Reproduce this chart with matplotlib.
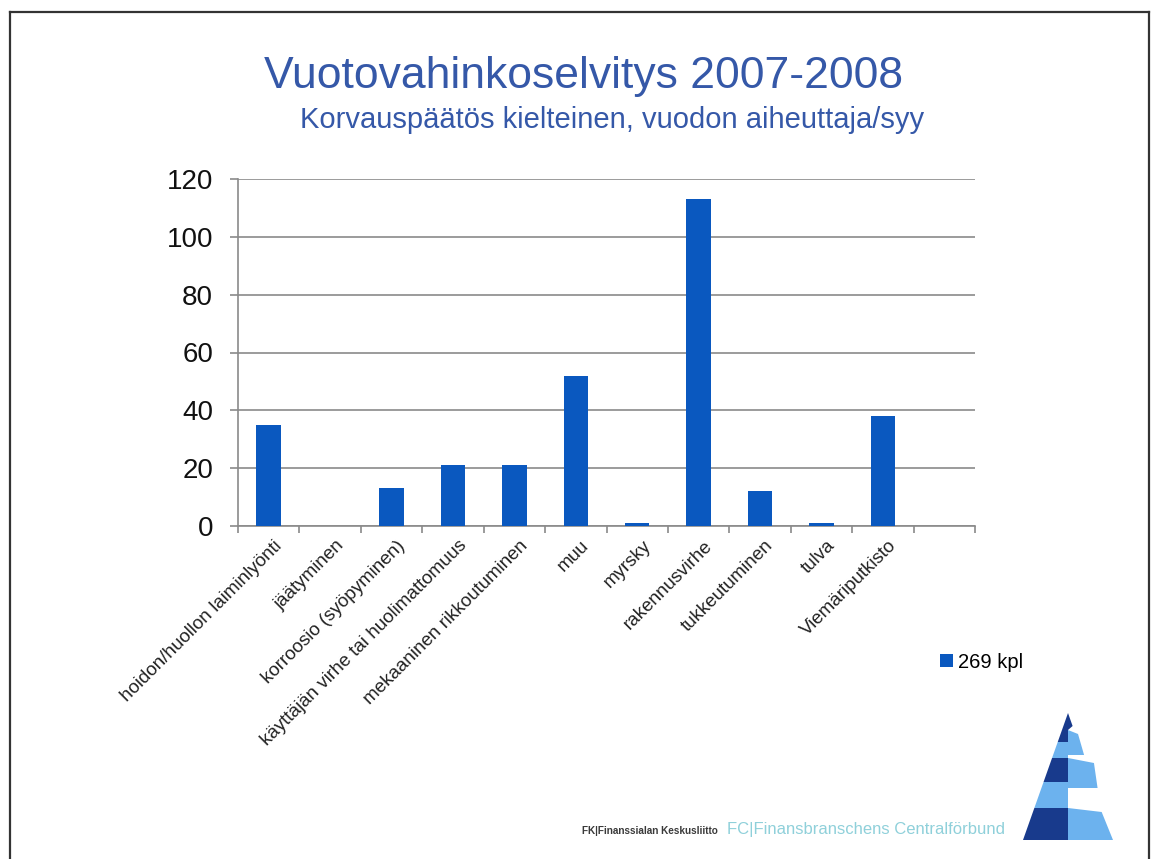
import matplotlib
matplotlib.use("Agg")
import matplotlib.pyplot as plt
from matplotlib.lines import Line2D
from matplotlib.patches import Polygon
import matplotlib.transforms as mtransforms
import numpy as np

plt.rcParams['font.family'] = ['Liberation Sans', 'DejaVu Sans']

# --- data ---
categories = [
    "hoidon/huollon laiminlyönti",
    "jäätyminen",
    "korroosio (syöpyminen)",
    "käyttäjän virhe tai huolimattomuus",
    "mekaaninen rikkoutuminen",
    "muu",
    "myrsky",
    "rakennusvirhe",
    "tukkeutuminen",
    "tulva",
    "Viemäriputkisto",
]
counts = [35, 0, 13, 21, 21, 52, 1, 113, 12, 1, 38]
series_name = "269 kpl"
y_ticks = [0, 20, 40, 60, 80, 100, 120]

title = "Vuotovahinkoselvitys 2007-2008"
subtitle = "Korvauspäätös kielteinen, vuodon aiheuttaja/syy"
footer_fk = "FK|Finanssialan Keskusliitto"
footer_fc = "FC|Finansbranschens Centralförbund"

# --- figure ---
W, H = 1154, 859
fig = plt.figure(figsize=(W / 100, H / 100), dpi=100)
fig.patch.set_facecolor("white")


def px(x, y):
    """Pixel position (origin top-left) to figure fraction."""
    return (x / W, 1 - y / H)


# slide frame
frame_col = "#333333"
fig.add_artist(Line2D([10 / W, 1149 / W], [1 - 12 / H, 1 - 12 / H],
                      transform=fig.transFigure, color=frame_col, lw=1.6))
fig.add_artist(Line2D([10 / W, 10 / W], [1 - 12 / H, 0],
                      transform=fig.transFigure, color=frame_col, lw=1.6))
fig.add_artist(Line2D([1149 / W, 1149 / W], [1 - 12 / H, 0],
                      transform=fig.transFigure, color=frame_col, lw=1.6))

# titles
title_col = "#3558A8"
fig.text(*px(584, 88), title, ha="center", va="baseline",
         fontsize=32, color=title_col)
fig.text(*px(612, 128), subtitle, ha="center", va="baseline",
         fontsize=21, color=title_col)

# --- chart ---
left, right, top, bottom = 238, 975, 179, 526
ax = fig.add_axes([left / W, 1 - bottom / H, (right - left) / W, (bottom - top) / H])

x = np.arange(len(categories))
bars = ax.bar(x, counts, width=0.4, color="#0A58BF", label=series_name, zorder=3)

ax.set_xlim(-0.5, len(categories) + 0.5)
ax.set_ylim(0, 120)
ax.set_yticks(y_ticks)
ax.yaxis.grid(True, color="#8a8a8a", lw=1.2, zorder=0)
ax.set_axisbelow(True)

for s in ("top", "right"):
    ax.spines[s].set_visible(False)
ax.spines["left"].set_color("#8a8a8a")
ax.spines["bottom"].set_color("#8a8a8a")
ax.spines["left"].set_linewidth(1.2)
ax.spines["bottom"].set_linewidth(1.2)

ax.tick_params(axis="y", length=6, width=1.2, color="#8a8a8a",
               labelsize=20, pad=12, labelcolor="#111111")

ax.set_xticks(x)
ax.set_xticklabels(categories, rotation=45, ha="right", va="top",
                   rotation_mode="anchor", fontsize=13.5, color="#222222")
ax.tick_params(axis="x", which="major", length=0, pad=8)
shift = mtransforms.ScaledTranslation(5 / 100, 0, fig.dpi_scale_trans)
for lbl in ax.get_xticklabels():
    lbl.set_transform(lbl.get_transform() + shift)
ax.set_xticks(np.arange(-0.5, len(categories) + 1, 1), minor=True)
ax.tick_params(axis="x", which="minor", length=5, width=1.2, color="#8a8a8a")

leg = fig.legend(handles=[bars], labels=[series_name], loc="center left",
                 bbox_to_anchor=px(940, 662), frameon=False, fontsize=14.5,
                 handlelength=0.65, handleheight=0.65, handletextpad=0.25,
                 borderpad=0, borderaxespad=0)

# --- footer ---
fig.text(*px(718, 834), footer_fk, ha="right", va="baseline",
         fontweight="bold", fontsize=7.2, color="#3a3a3a")
fig.text(*px(727, 834), footer_fc, ha="left", va="baseline",
         fontsize=12, color="#8fd0da")

# logo: striped pyramid
dark = "#183a8c"
light = "#6cb2ee"
apex_x, apex_y, base_y = 1068, 713, 840
half = 45


def edge(y, sign):
    return apex_x + sign * (y - apex_y) * half / (base_y - apex_y)


def left_band(y0, y1, col):
    pts = [px(apex_x, y0), px(edge(y0, -1), y0), px(edge(y1, -1), y1), px(apex_x, y1)]
    fig.add_artist(Polygon(pts, closed=True, transform=fig.transFigure,
                           facecolor=col, edgecolor="none"))


def right_band(y0, y1, drop, extra, col):
    pts = [px(apex_x, y0), px(edge(y0, 1) + extra, y0 + drop),
           px(edge(y1, 1) + extra * 0.3, y1), px(apex_x, y1)]
    fig.add_artist(Polygon(pts, closed=True, transform=fig.transFigure,
                           facecolor=col, edgecolor="none"))


left_band(apex_y, 742, dark)
left_band(742, 758, light)
left_band(758, 782, dark)
left_band(782, 808, light)
left_band(808, base_y, dark)

# top tip of right half
fig.add_artist(Polygon([px(apex_x, apex_y), px(edge(726, 1), 726), px(apex_x, 730)],
                       closed=True, transform=fig.transFigure,
                       facecolor=dark, edgecolor="none"))
right_band(730, 755, 4, 4, light)
right_band(758, 788, 5, 10, light)
right_band(808, base_y, 4, 0, light)

fig.savefig("out.png", dpi=100, facecolor="white")
